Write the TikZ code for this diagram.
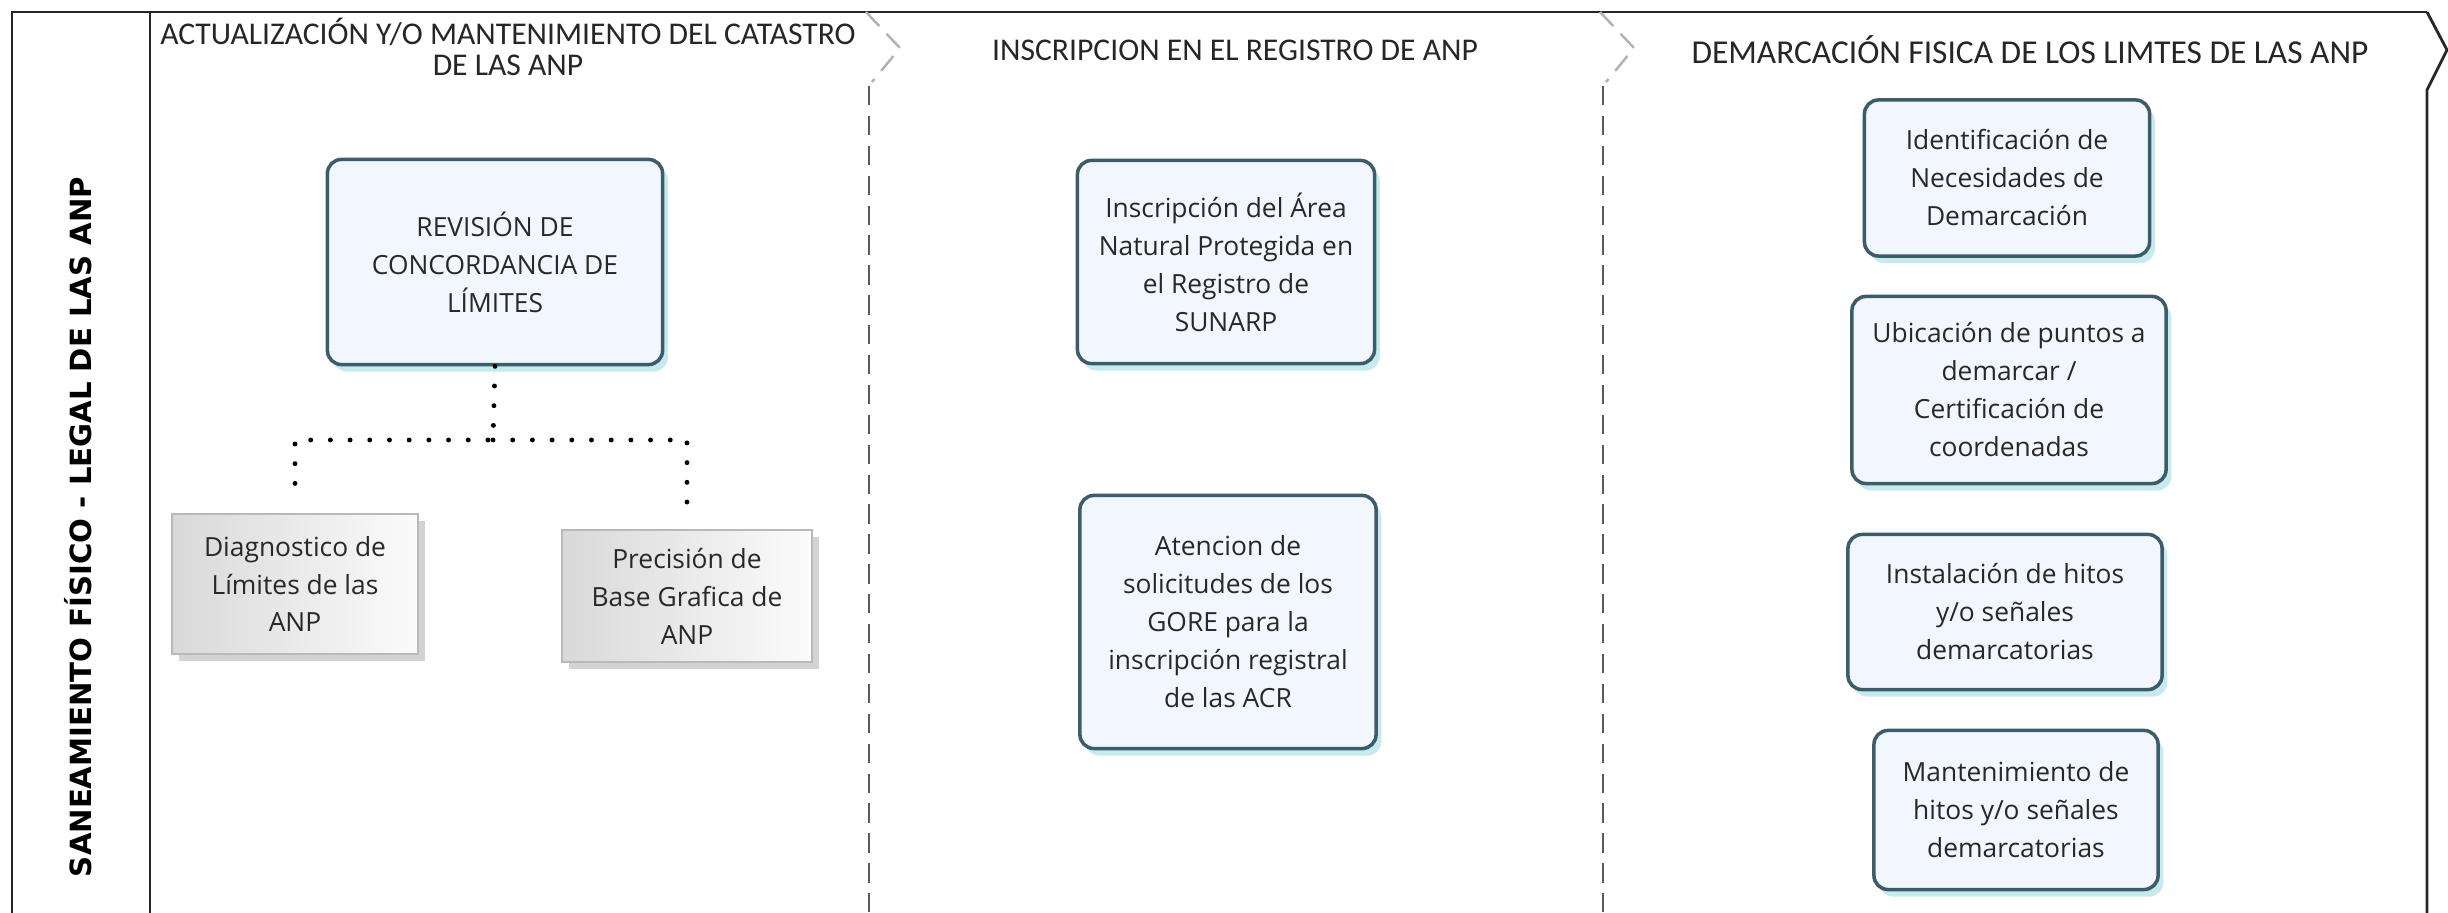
\documentclass[tikz,border=0pt]{standalone}
\usepackage{fontspec}
\setmainfont{Open Sans}
\newfontfamily\titlefont{Carlito}
\newfontfamily\lanefont{DejaVu Sans}
\usetikzlibrary{shadows}
\definecolor{boxedge}{RGB}{60,92,108}
\definecolor{boxfill}{RGB}{241,247,252}
\definecolor{txt}{RGB}{40,40,40}
\tikzset{task/.style={draw=boxedge, line width=1pt, rounded corners=4pt,
    fill=boxfill, align=center, text=txt, inner sep=2pt,
    font=\fontsize{7.5}{10.8}\selectfont,
    drop shadow={shadow xshift=1.5pt, shadow yshift=-2pt, fill=boxedge!50!cyan, opacity=.25}},
  subtask/.style={draw=gray!55, line width=.5pt, left color=gray!30, right color=gray!3,
    align=center, text=txt, inner sep=2pt,
    font=\fontsize{7.5}{10.8}\selectfont,
    drop shadow={shadow xshift=2pt, shadow yshift=-2pt, fill=gray, opacity=.35}},
  phase/.style={font=\titlefont\fontsize{9}{8.8}\selectfont, align=center, text=black!85},
  lane/.style={draw=black!85, line width=.8pt},
  sep/.style={draw=gray!70!black, line width=.7pt, dash pattern=on 5.5pt off 3pt},
  link/.style={line width=1.4pt, line cap=round, dash pattern=on 0pt off 5.6pt},}

\begin{document}
\begin{tikzpicture}[x=0.01cm, y=-0.01cm]
  \useasboundingbox (0,0) rectangle (2448,913);
  \draw[lane] (2427,12) -- (12,12) -- (12,913);
  \draw[lane] (150,12) -- (150,913);
  \draw[lane] (2427,12) -- (2447,50) -- (2427,90) -- (2427,913);
  \draw[sep, draw=gray!60] (866,12) -- (900,48) -- (872,82);
  \draw[sep] (869,86) -- (869,913);
  \draw[sep, draw=gray!60] (1600,12) -- (1634,48) -- (1606,82);
  \draw[sep] (1603,86) -- (1603,913);
  \node[rotate=90, font=\lanefont\bfseries\fontsize{8.3}{10}\selectfont] (0) at (78,527) {SANEAMIENTO FÍSICO - LEGAL DE LAS ANP};
  \node[phase] (t1) at (508,47) {ACTUALIZACIÓN Y/O MANTENIMIENTO DEL CATASTRO\\DE LAS ANP};
  \node[phase] (t2) at (1235,50) {INSCRIPCION EN EL REGISTRO DE ANP};
  \node[phase, font=\titlefont\fontsize{9.5}{9}\selectfont] (t3) at (2030,50) {DEMARCACIÓN FISICA DE LOS LIMTES DE LAS ANP};
  \node[task, minimum width=3.35cm, minimum height=2.05cm] (1) at (495,262) {REVISIÓN DE\\CONCORDANCIA DE\\LÍMITES};
  \node[subtask, minimum width=2.46cm, minimum height=1.40cm] (2) at (295,584) {Diagnostico de\\Límites de las\\ANP};
  \node[subtask, minimum width=2.50cm, minimum height=1.32cm] (3) at (687,596) {Precisión de\\Base Grafica de\\ANP};
  \node[task, minimum width=2.97cm, minimum height=2.03cm] (4) at (1226,262) {Inscripción del Área\\Natural Protegida en\\el Registro de\\SUNARP};
  \node[task, minimum width=2.96cm, minimum height=2.53cm] (5) at (1228,622) {Atencion de\\solicitudes de los\\GORE para la\\inscripción registral\\de las ACR};
  \node[task, minimum width=2.85cm, minimum height=1.56cm] (6) at (2007,178) {Identificación de\\Necesidades de\\Demarcación};
  \node[task, minimum width=3.14cm, minimum height=1.87cm] (7) at (2009,390) {Ubicación de puntos a\\demarcar /\\Certificación de\\coordenadas};
  \node[task, minimum width=3.14cm, minimum height=1.55cm] (8) at (2005,612) {Instalación de hitos\\y/o señales\\demarcatorias};
  \node[task, minimum width=2.84cm, minimum height=1.59cm] (9) at (2016,810) {Mantenimiento de\\hitos y/o señales\\demarcatorias};
  \coordinate (j) at (493,440);
  \draw[link] (1.south) -- (j) -| ([yshift=4pt]2.north);
  \draw[link] (j) -| ([yshift=4pt]3.north);
\end{tikzpicture}
\end{document}
